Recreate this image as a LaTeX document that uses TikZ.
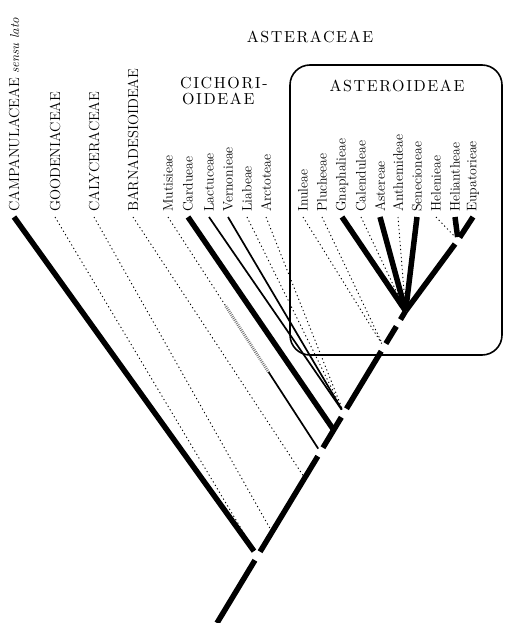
\documentclass[tikz,border=0pt]{standalone}
\usepackage{fontspec}
\newfontfamily\grpfont{lmroman10-regular.otf}[LetterSpace=10]
\usetikzlibrary{calc}

\begin{document}
\begin{tikzpicture}[x=1pt, y=-1pt,
        taxon/.style={rotate=90, anchor=west, inner xsep=5pt, inner ysep=0pt,
            font=\fontsize{13.8}{15}\selectfont},
        ctaxon/.style={taxon, font=\fontsize{14.5}{16}\selectfont},
        group/.style={inner sep=0pt, font=\grpfont\fontsize{16}{17}\selectfont},
        thickbr/.style={line width=5.5pt},
        thinbr/.style={line width=1.7pt},
        dotbr/.style={line width=0.9pt, dash pattern=on 1.2pt off 2.8pt},
        hatchbr/.style={line width=3pt, black!55, dash pattern=on 0.8pt off 1.2pt}]
    \useasboundingbox (0,0) rectangle (504,623);
    % Group names and the box:
    \node[group, anchor=base] (asteraceae) at (310,43) {ASTERACEAE};
    \node[group, anchor=base west] (cichA) at (180,89) {CICHORI-};
    \node[group, anchor=base west] (cichB) at (182,105) {OIDEAE};
    \draw[line width=1.6pt, rounded corners=20pt] (290,65) rectangle (502,355);
    \node[group, anchor=base] (asteroideae) at (397,92) {ASTEROIDEAE};
    % Taxa:
    \node[ctaxon] (campan) at (14,217) {CAMPANULACEAE {\fontsize{13}{14}\selectfont\itshape sensu lato}};
    \node[ctaxon] (goode) at (55,217) {GOODENIACEAE};
    \node[ctaxon] (calyc) at (94,217) {CALYCERACEAE};
    \node[ctaxon] (barna) at (133,217) {BARNADESIOIDEAE};
    \node[taxon] (muti) at (168,217) {Mutisieae};
    \node[taxon] (cardu) at (188,217) {Cardueae};
    \node[taxon] (lactu) at (209,217) {Lactuceae};
    \node[taxon] (verno) at (228,217) {Vernonieae};
    \node[taxon] (liabe) at (247,217) {Liabeae};
    \node[taxon] (arcto) at (266,217) {Arctoteae};
    \node[taxon] (inule) at (303,217) {Inuleae};
    \node[taxon] (pluch) at (322,217) {Plucheeae};
    \node[taxon] (gnaph) at (342,217) {Gnaphalieae};
    \node[taxon] (calen) at (361,217) {Calenduleae};
    \node[taxon] (aster) at (380,217) {Astereae};
    \node[taxon] (anthe) at (398,217) {Anthemideae};
    \node[taxon] (senec) at (417,217) {Senecioneae};
    \node[taxon] (hele) at (436,217) {Helenieae};
    \node[taxon] (helia) at (455,217) {Heliantheae};
    \node[taxon] (eupat) at (473,217) {Eupatorieae};
    % Branch points:
    \coordinate (root) at (217,623);
    \coordinate (n1) at (257.5,556);
    \coordinate (nc) at (272,532);
    \coordinate (nb) at (304.7,478);
    \coordinate (n2) at (320.4,452);
    \coordinate (n3) at (333.7,430);
    \coordinate (n4) at (343.9,413);
    \coordinate (n5) at (383.8,347);
    \coordinate (n6) at (398.4,323);
    \coordinate (nfan) at (405.6,311);
    \coordinate (nh) at (458,240);
    % Backbone:
    \draw[thickbr, shorten >=5pt] (root) -- (n1);
    \draw[thickbr, shorten <=5pt, shorten >=5pt] (n1) -- (n2);
    \draw[thickbr, shorten <=5pt, shorten >=5pt] (n2) -- (n4);
    \draw[thickbr, shorten <=5pt, shorten >=5pt] (n4) -- (n5);
    \draw[thickbr, shorten <=4pt, shorten >=4pt] (n5) -- (n6);
    \draw[thickbr, shorten <=4pt] (n6) -- (nfan);
    % Outgroups:
    \draw[thickbr, shorten >=6pt] (campan.west) -- (n1);
    \draw[dotbr, shorten >=6pt] (goode.west) -- (n1);
    \draw[dotbr] (calyc.west) -- (nc);
    \draw[dotbr] (barna.west) -- (nb);
    % Cichorioideae:
    \coordinate (mutiA) at ($(muti.west)!0.38!(n2)$);
    \coordinate (mutiB) at ($(muti.west)!0.66!(n2)$);
    \draw[dotbr] (muti.west) -- (mutiA);
    \draw[hatchbr] (mutiA) -- (mutiB);
    \draw[thinbr, shorten >=4pt] (mutiB) -- (n2);
    \draw[thickbr] (cardu.west) -- (n3);
    \draw[thinbr, shorten >=4pt] (lactu.west) -- (n4);
    \draw[thinbr, shorten >=4pt] (verno.west) -- (n4);
    \draw[dotbr, shorten >=5pt] (liabe.west) -- (n4);
    \draw[dotbr, shorten >=5pt] (arcto.west) -- (n4);
    % Asteroideae:
    \draw[dotbr, shorten >=4pt] (inule.west) -- (n5);
    \draw[dotbr, shorten >=4pt] (pluch.west) -- (n5);
    \draw[thickbr] (gnaph.west) -- (nfan);
    \draw[dotbr] (calen.west) -- (nfan);
    \draw[thickbr] (aster.west) -- (nfan);
    \draw[dotbr] (anthe.west) -- (nfan);
    \draw[thickbr] (senec.west) -- (nfan);
    \draw[thickbr, shorten >=5pt] (nfan) -- (nh);
    \draw[dotbr, shorten >=4pt] (hele.west) -- (nh);
    \draw[thickbr, shorten >=3pt] (helia.west) -- (nh);
    \draw[thickbr, shorten >=3pt] (eupat.west) -- (nh);
\end{tikzpicture}
\end{document}
